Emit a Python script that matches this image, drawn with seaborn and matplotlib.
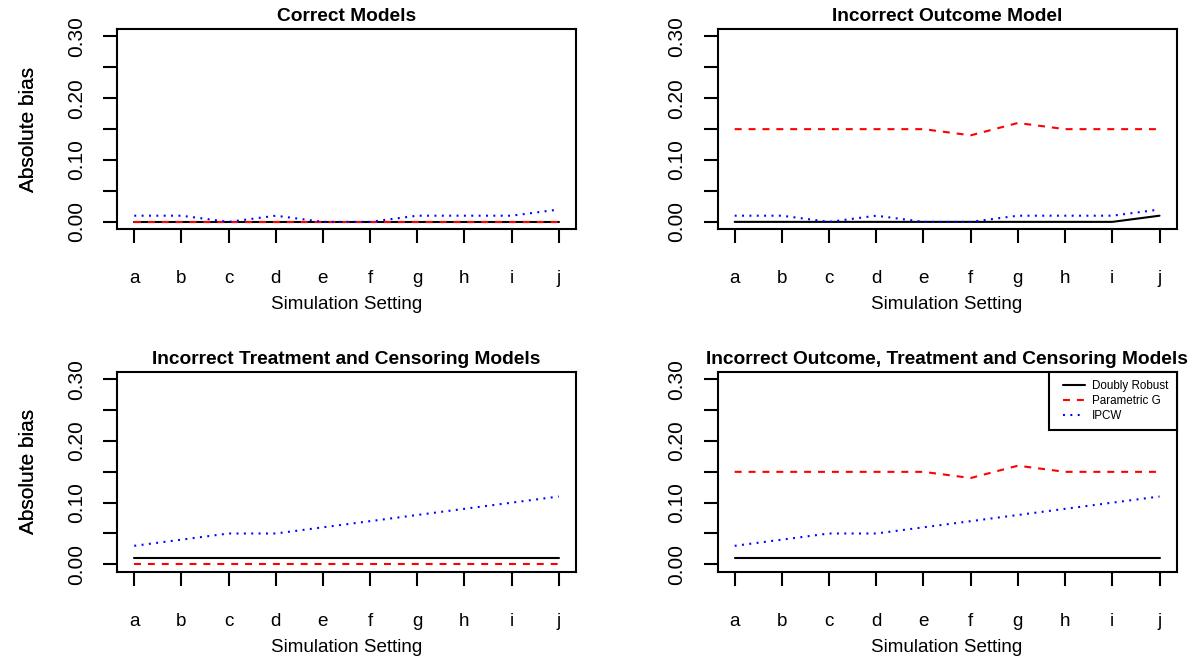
import matplotlib
matplotlib.use("Agg")
import matplotlib.pyplot as plt
import seaborn as sns
from matplotlib.lines import Line2D
from matplotlib.legend_handler import HandlerLine2D

# Simulation settings on the x axis
settings = ["a", "b", "c", "d", "e", "f", "g", "h", "i", "j"]
positions = list(range(1, 11))

# Absolute bias per estimator, one list per scenario
dr_correct = [0.00, 0.00, 0.00, 0.00, 0.00, 0.00, 0.00, 0.00, 0.00, 0.00]
pg_correct = [0.00, 0.00, 0.00, 0.00, 0.00, 0.00, 0.00, 0.00, 0.00, 0.00]
ipcw_correct = [0.01, 0.01, 0.00, 0.01, 0.00, 0.00, 0.01, 0.01, 0.01, 0.02]

dr_bad_outcome = [0.00, 0.00, 0.00, 0.00, 0.00, 0.00, 0.00, 0.00, 0.00, 0.01]
pg_bad_outcome = [0.15, 0.15, 0.15, 0.15, 0.15, 0.14, 0.16, 0.15, 0.15, 0.15]
ipcw_bad_outcome = [0.01, 0.01, 0.00, 0.01, 0.00, 0.00, 0.01, 0.01, 0.01, 0.02]

dr_bad_treat = [0.01, 0.01, 0.01, 0.01, 0.01, 0.01, 0.01, 0.01, 0.01, 0.01]
pg_bad_treat = [0.00, 0.00, 0.00, 0.00, 0.00, 0.00, 0.00, 0.00, 0.00, 0.00]
ipcw_bad_treat = [0.03, 0.04, 0.05, 0.05, 0.06, 0.07, 0.08, 0.09, 0.10, 0.11]

dr_bad_all = [0.01, 0.01, 0.01, 0.01, 0.01, 0.01, 0.01, 0.01, 0.01, 0.01]
pg_bad_all = [0.15, 0.15, 0.15, 0.15, 0.15, 0.14, 0.16, 0.15, 0.15, 0.15]
ipcw_bad_all = [0.03, 0.04, 0.05, 0.05, 0.06, 0.07, 0.08, 0.09, 0.10, 0.11]

titles = [
    "Correct Models",
    "Incorrect Outcome Model",
    "Incorrect Treatment and Censoring Models",
    "Incorrect Outcome, Treatment and Censoring Models",
]
method_names = ["Doubly Robust", "Parametric G", "IPCW"]
y_ticks = [0.00, 0.10, 0.20, 0.30]
y_minor = [0.05, 0.15, 0.25]
y_tick_labels = ["0.00", "0.10", "0.20", "0.30"]

sns.set_theme(style="white")
plt.rcParams["font.family"] = ["Liberation Sans", "DejaVu Sans"]
plt.rcParams["lines.scale_dashes"] = False

W, H = 1197, 662
fig = plt.figure(figsize=(W / 100, H / 100), dpi=100)

# Panel rectangles in pixels: left, top, right, bottom
rects = [
    (117.3, 29.0, 575.7, 229.3),
    (717.7, 29.0, 1176.5, 229.3),
    (117.3, 372.0, 575.7, 571.7),
    (717.7, 372.0, 1176.5, 571.7),
]

panel_data = [
    (dr_correct, pg_correct, ipcw_correct),
    (dr_bad_outcome, pg_bad_outcome, ipcw_bad_outcome),
    (dr_bad_treat, pg_bad_treat, ipcw_bad_treat),
    (dr_bad_all, pg_bad_all, ipcw_bad_all),
]

styles = [
    dict(color="black", linestyle="-"),
    dict(color="#FF0000", linestyle=(0, (5, 5))),
    dict(color="#0000FF", linestyle=(0, (1.4, 3.9))),
]

fs = 13.6        # horizontal text
fs_rot = 15.0    # vertical (rotated) text
axes = []
for (l, t, r, b), title, series in zip(rects, titles, panel_data):
    ax = fig.add_axes([l / W, 1 - b / H, (r - l) / W, (b - t) / H])
    axes.append(ax)
    for vals, st, name in zip(series, styles, method_names):
        sns.lineplot(x=positions, y=vals, ax=ax, linewidth=1.5,
                     label=name, legend=False, **st)
    ax.set_xlim(0.64, 10.36)
    ax.set_ylim(-0.012, 0.312)
    ax.set_xticks(positions)
    ax.set_xticklabels(settings, fontsize=fs)
    ax.set_yticks(y_ticks)
    ax.set_yticks(y_minor, minor=True)
    ax.set_yticklabels(y_tick_labels, fontsize=fs_rot, rotation=90, va="center")
    ax.tick_params(axis="both", which="both", direction="out", length=10,
                   width=1.5, color="black", labelcolor="black")
    ax.tick_params(axis="x", pad=19.5, bottom=True)
    ax.tick_params(axis="y", which="both", pad=12.5, left=True)
    for sp in ax.spines.values():
        sp.set_visible(True)
        sp.set_color("black")
        sp.set_linewidth(1.5)
    ax.set_xlabel("Simulation Setting", fontsize=fs, color="black")
    ax.set_ylabel("Absolute bias", fontsize=fs_rot, color="black")
    ax.xaxis.set_label_coords(0.5, -(305 - 229.3) / 200.3)
    ax.xaxis.label.set_verticalalignment("center")
    ax.yaxis.set_label_coords(-(l - 29) / (r - l), 0.5)
    ax.yaxis.label.set_verticalalignment("center")
    ax.set_title(title, fontsize=13.75, fontweight="bold", color="black",
                 y=1 + 8 / 200.3, va="baseline", pad=0)
    ax.grid(False)

# Legend in the last panel
ax = axes[3]
handles = ax.get_lines()[:3]
leg_fs = 8.4
pt = leg_fs * 100 / 72  # font size in pixels
leg = ax.legend(
    handles=handles, labels=method_names, loc="upper right",
    fontsize=leg_fs, frameon=True, fancybox=False, framealpha=1,
    edgecolor="black", borderaxespad=0, borderpad=8 / pt,
    handlelength=34 / pt, handletextpad=1.5 / pt, labelspacing=0.26,
    handler_map={Line2D: HandlerLine2D(numpoints=2, marker_pad=6 / pt)},
)
leg.get_frame().set_linewidth(1.5)
for txt in leg.get_texts():
    txt.set_color("black")

fig.savefig("out.png", dpi=100, facecolor="white")
